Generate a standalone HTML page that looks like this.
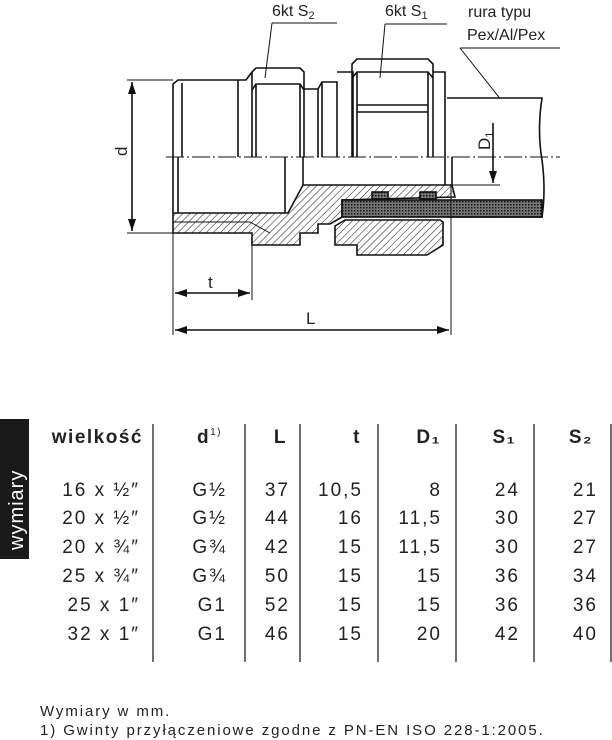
<!DOCTYPE html>
<html><head><meta charset="utf-8"><style>
body{margin:0;background:#fff;width:612px;height:740px;overflow:hidden;font-family:"Liberation Sans",sans-serif;color:#222}
svg{position:absolute;left:0;top:0}
</style></head><body>
<svg width="612" height="740" viewBox="0 0 612 740" xmlns="http://www.w3.org/2000/svg">
<defs>
<pattern id="h" width="5" height="5" patternUnits="userSpaceOnUse" patternTransform="rotate(45)"><rect width="5" height="5" fill="#fff"/><line x1="0" y1="0" x2="0" y2="5" stroke="#222" stroke-width="1.1"/></pattern>
<pattern id="x" width="3" height="3" patternUnits="userSpaceOnUse"><rect width="3" height="3" fill="#777"/><rect width="1.5" height="1.5" fill="#111"/></pattern>
<marker id="a" markerWidth="12" markerHeight="8" refX="12" refY="4" orient="auto" markerUnits="userSpaceOnUse"><path d="M0,0 L12,4 L0,8z" fill="#111"/></marker>
</defs>
<g fill="none" stroke="#111" stroke-width="1.6" font-family="Liberation Sans, sans-serif">
<g fill="#222" stroke="none" font-size="16"><text x="272" y="16">6kt S<tspan font-size="11" dy="3">2</tspan></text><text x="385" y="16">6kt S<tspan font-size="11" dy="3">1</tspan></text><text x="468" y="17">rura typu</text><text x="467" y="40">Pex/Al/Pex</text></g>
<path d="M272,23 H337 M272,23 L265,78 M385,24 H447 M385,24 L380,78 M460,48 H560 M460,48 L513,115" stroke-width="1"/>
<path d="M447,98 H542 Q537,130 542,160 Q546,190 542,217 H447" fill="#fff"/>
<path d="M173,157 V84 L178,80 H246 L252,72 M182,83 V157 M238,80 V157" fill="#fff"/>
<path d="M252,157 V72 L256,68 H300 L304,72 V157 M252,90 L256,84 H300 L304,90 M256,84 V157 M300,84 V157"/>
<path d="M304,89 H318 V157 M318,89 L322,82 H337 V157 M322,82 V157"/>
<path d="M337,72 H353 V157 M433,72 H445 V157 M352,157 V64 L357,59 H428 L433,64 V157 M352,78 L357,72 H428 L433,78 M357,72 V157 M428,72 V157 M357,105 H428 M357,112 H428"/>
<path d="M173,157 V213 M178,157 V213 M285,157 V213 M303,157 V185 M445,157 V185 M452,157 V185"/>
<path d="M173,213 H288 L303,185 H452 L455,197 L342,200 V217 L330,224 H318 V233 H300 V245 H252 V233 H173 Z" fill="url(#h)"/>
<path d="M173,222 H250 L270,233" stroke-width="0.9"/>
<path d="M335,226 L345,220 H440 L443,222 V245 L427,255 H357 V245 H335 Z" fill="url(#h)"/>
<rect x="342" y="200" width="200" height="17" fill="url(#x)"/>
<rect x="372" y="192" width="16" height="7" fill="url(#x)"/><rect x="420" y="192" width="16" height="7" fill="url(#x)"/>
<path d="M166,157 H560" stroke-width="0.9" stroke-dasharray="18,3,2,3"/>
<path d="M127,80 H173 M127,233 H173" stroke-width="1"/>
<path d="M132,157 V82" marker-end="url(#a)"/><path d="M132,157 V231" marker-end="url(#a)"/>
<path d="M173,233 V335 M252,245 V300 M451,185 V335 M450,185 H500" stroke-width="1"/>
<path d="M212,293 H175" marker-end="url(#a)"/><path d="M212,293 H250" marker-end="url(#a)"/>
<path d="M310,330 H175" marker-end="url(#a)"/><path d="M310,330 H449" marker-end="url(#a)"/>
<path d="M493,123 V183" marker-end="url(#a)"/>
<g fill="#222" stroke="none" font-size="17"><text x="208" y="288">t</text><text x="306" y="324">L</text>
<text transform="translate(127,156) rotate(-90)">d</text>
<text transform="translate(490,150) rotate(-90)">D<tspan font-size="11" dy="3">1</tspan></text></g>
</g>
<rect x="0" y="419" width="29" height="140" fill="#1a1a1a"/>
<text transform="translate(23,550) rotate(-90)" fill="#fff" font-size="20" letter-spacing="1" font-family="Liberation Sans, sans-serif">wymiary</text>
<g stroke="#222" stroke-width="1.3"><path d="M153,424 V662 M245,424 V662 M300,424 V662 M378,424 V662 M456,424 V662 M534,424 V662 M611,424 V662"/></g>
<g font-family="Liberation Sans, sans-serif" font-size="19" letter-spacing="2" fill="#222" text-anchor="end">
<g font-weight="bold" letter-spacing="1.5"><text x="143" y="443">wielkość</text><text x="222" y="443">d<tspan font-size="10" font-weight="normal" dy="-8">1)</tspan></text><text x="287" y="443">L</text><text x="361" y="443">t</text><text x="441" y="443">D₁</text><text x="516" y="443">S₁</text><text x="593" y="443">S₂</text></g>
<g><text x="140" y="496">16 x ½″</text><text x="227" y="496">G½</text><text x="290" y="496">37</text><text x="363" y="496">10,5</text><text x="442" y="496">8</text><text x="520" y="496">24</text><text x="598" y="496">21</text></g>
<g><text x="140" y="524">20 x ½″</text><text x="227" y="524">G½</text><text x="290" y="524">44</text><text x="363" y="524">16</text><text x="442" y="524">11,5</text><text x="520" y="524">30</text><text x="598" y="524">27</text></g>
<g><text x="140" y="553">20 x ¾″</text><text x="227" y="553">G¾</text><text x="290" y="553">42</text><text x="363" y="553">15</text><text x="442" y="553">11,5</text><text x="520" y="553">30</text><text x="598" y="553">27</text></g>
<g><text x="140" y="582">25 x ¾″</text><text x="227" y="582">G¾</text><text x="290" y="582">50</text><text x="363" y="582">15</text><text x="442" y="582">15</text><text x="520" y="582">36</text><text x="598" y="582">34</text></g>
<g><text x="140" y="611">25 x 1″</text><text x="227" y="611">G1</text><text x="290" y="611">52</text><text x="363" y="611">15</text><text x="442" y="611">15</text><text x="520" y="611">36</text><text x="598" y="611">36</text></g>
<g><text x="140" y="640">32 x 1″</text><text x="227" y="640">G1</text><text x="290" y="640">46</text><text x="363" y="640">15</text><text x="442" y="640">20</text><text x="520" y="640">42</text><text x="598" y="640">40</text></g>
</g>
<g font-family="Liberation Sans, sans-serif" font-size="15" letter-spacing="1.9" fill="#222"><text x="40" y="716">Wymiary w mm.</text><text x="40" y="735">1) Gwinty przyłączeniowe zgodne z PN-EN ISO 228-1:2005.</text></g>
</svg>
</body></html>
